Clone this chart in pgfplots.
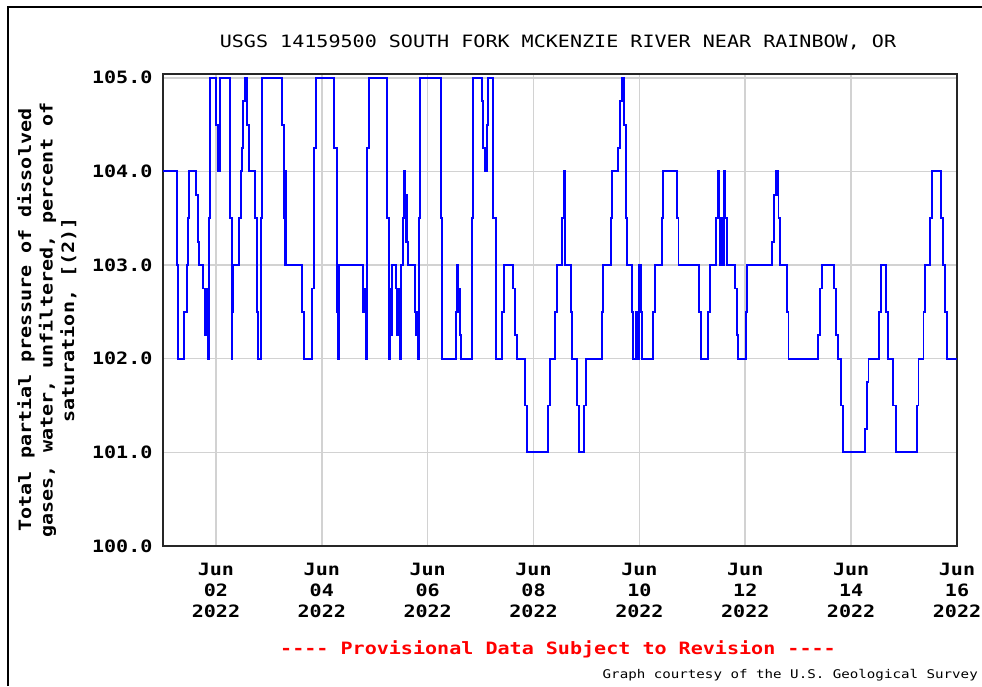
\documentclass[border=0pt]{standalone}
\usepackage{fontspec}
\newfontfamily\usgs{DejaVu Sans Mono}[FakeStretch=1.18]
\usepackage{pgfplots}
\pgfplotsset{compat=1.18}
\begin{document}
\begin{tikzpicture}[x=1pt,y=1pt]
\useasboundingbox (0,0) rectangle (982,686);
\draw[line width=2pt] (7.5,0) -- (7.5,679) -- (982,679);
\begin{axis}[
  at={(163pt,140pt)}, anchor=south west,
  width=794pt, height=472pt, scale only axis,
  xmin=1, xmax=16, ymin=100, ymax=105.04,
  xtick={2,4,...,16},
  xticklabels={Jun\\02\\2022,Jun\\04\\2022,Jun\\06\\2022,Jun\\08\\2022,Jun\\10\\2022,Jun\\12\\2022,Jun\\14\\2022,Jun\\16\\2022},
  ytick={100,...,105},
  yticklabels={100.0,101.0,102.0,103.0,104.0,105.0},
  grid=major,
  major grid style={gray!35, line width=1.6pt},
  axis line style={line width=2pt, black!85},
  major tick length=0pt,
  tick label style={font=\usgs\bfseries\fontsize{17}{21}\selectfont},
  xticklabel style={align=center, yshift=-14pt},
  yticklabel style={xshift=-7pt},
]
% total dissolved gas, percent saturation, step trace
\addplot[blue, line width=1.9pt, const plot] coordinates {
(1.000,104) (1.258,103) (1.290,102) (1.397,102.5) (1.447,103) (1.466,103.5) (1.497,104)
(1.617,103.75) (1.655,103.25) (1.686,103) (1.762,102.75) (1.794,102.25) (1.806,102.75)
(1.819,102.25) (1.831,102.75) (1.844,102.25) (1.857,102) (1.869,103.5) (1.888,105)
(2.001,104.5) (2.046,104) (2.077,105) (2.266,103.5) (2.298,102) (2.306,102.5) (2.313,103)
(2.318,102.5) (2.324,103) (2.436,103.5) (2.467,104) (2.487,104.25) (2.505,104.75)
(2.550,105) (2.562,104.75) (2.575,105) (2.594,104.5) (2.631,104) (2.739,103.5)
(2.770,102.5) (2.802,102) (2.852,103.5) (2.877,105) (3.243,104.5) (3.287,103.5)
(3.306,103) (3.318,104) (3.331,103)
(3.632,102.5) (3.664,102) (3.809,102.75) (3.853,104.25) (3.884,105) (4.237,104.25)
(4.281,102.75) (4.294,102.5) (4.306,102.75) (4.313,102) (4.331,103) (4.785,102.5)
(4.798,102.75) (4.810,102.5) (4.829,102) (4.848,102.75) (4.861,104.25) (4.892,105)
(5.239,103.5) (5.276,102) (5.289,102.25) (5.302,102.75) (5.314,102.25) (5.333,103)
(5.402,102.75) (5.428,102.25) (5.440,102.75) (5.453,102.25) (5.472,102) (5.491,103)
(5.528,103.5) (5.560,104) (5.579,103.75) (5.591,103.25) (5.604,103.75) (5.617,103.25)
(5.636,103) (5.762,102.5) (5.781,102.25) (5.806,102.5) (5.818,102) (5.837,103.5) (5.856,105)
(6.246,103.5) (6.277,102) (6.529,102.5) (6.561,103) (6.580,102.75) (6.592,102.5)
(6.598,102.75) (6.611,102.25) (6.624,102) (6.832,103.5) (6.863,105) (7.021,104.75)
(7.052,104.25) (7.084,104) (7.102,104.25) (7.115,104) (7.128,104.5) (7.147,105)
(7.241,103.5) (7.285,102) (7.411,102.5) (7.443,103) (7.606,102.75) (7.657,102.25)
(7.682,102) (7.840,101.5) (7.871,101) (8.281,101.5) (8.312,102)
(8.406,102.5) (8.451,103) (8.545,103.5) (8.577,104) (8.589,103.5) (8.602,103)
(8.703,102.5) (8.734,102) (8.829,101.5) (8.860,101) (8.961,101.5) (8.992,102)
(9.289,102.5) (9.320,103) (9.459,103.5) (9.490,104) (9.604,104.25) (9.635,104.75)
(9.667,105) (9.679,104.75) (9.692,105) (9.711,104.5) (9.742,103.5) (9.774,103)
(9.868,102.5) (9.887,102) (9.937,102.5) (9.963,102) (9.988,103) (10.000,102.5)
(10.013,103) (10.026,102.5) (10.057,102) (10.265,102.5) (10.297,103) (10.423,103.5)
(10.454,104) (10.706,103.5) (10.738,103)
(11.127,102.5) (11.159,102) (11.304,102.5) (11.335,103) (11.448,103.5) (11.480,104)
(11.499,103.5) (11.518,103) (11.543,103.5) (11.574,103) (11.593,103.5) (11.606,104)
(11.625,103.5) (11.650,103) (11.808,102.75) (11.839,102.25) (11.871,102) (12.009,102.5)
(12.041,103) (12.513,103.25) (12.545,103.75) (12.582,104) (12.590,103.75) (12.600,104)
(12.627,103.5) (12.658,103) (12.784,102.5) (12.816,102)
(13.382,102.25) (13.413,102.75) (13.445,103) (13.678,102.75) (13.715,102.25)
(13.760,102) (13.804,101.5) (13.841,101) (14.264,101.25) (14.295,101.75) (14.327,102)
(14.534,102.5) (14.560,103) (14.660,102.5) (14.692,102) (14.799,101.5) (14.849,101)
(15.240,101.5) (15.272,102) (15.366,102.5) (15.398,103) (15.492,103.5) (15.524,104)
(15.694,103.5) (15.731,103) (15.776,102.5) (15.807,102) (16.000,102)
};
\end{axis}
\node[font=\usgs\fontsize{17}{21}\selectfont] at (558,644) {USGS 14159500 SOUTH FORK MCKENZIE RIVER NEAR RAINBOW, OR};
\node[font=\usgs\bfseries\fontsize{17}{21.5}\selectfont, rotate=90, align=center] at (47,366)
  {Total partial pressure of dissolved\\gases, water, unfiltered, percent of\\saturation, [(2)]};
\node[font=\usgs\bfseries\fontsize{17}{21}\selectfont, text=red] at (558,37) {---- Provisional Data Subject to Revision ----};
\node[font=\usgs\fontsize{12}{14}\selectfont, anchor=east, inner sep=0pt] at (978,11) {Graph courtesy of the U.S. Geological Survey};
\end{tikzpicture}
\end{document}
